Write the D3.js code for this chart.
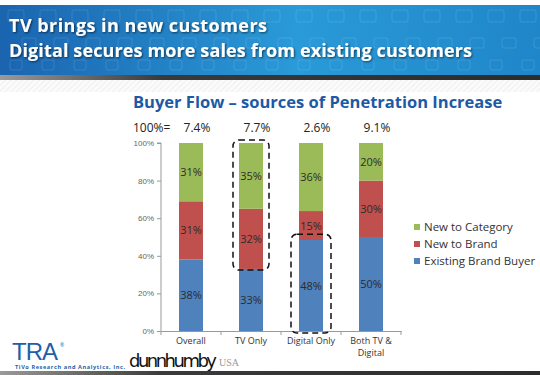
<!DOCTYPE html>
<html>
<head>
<meta charset="utf-8">
<script src="https://cdn.jsdelivr.net/npm/d3@7"></script>
<style>
  body { margin: 0; background: #fff; }
  svg { display: block; font-family: "Open Sans", "DejaVu Sans", sans-serif; }
</style>
</head>
<body>
<div id="chart"></div>
<script>
const categories = ["Overall", "TV Only", "Digital Only", "Both TV &\nDigital"];
const totals = ["7.4%", "7.7%", "2.6%", "9.1%"];
const existing = [38, 33, 48.4, 50];
const newBrand = [31, 32, 15.4, 30];
const newCategory = [31, 35, 36.2, 20];
const seriesNames = ["Existing Brand Buyer", "New to Brand", "New to Category"];
const yTicks = [0, 20, 40, 60, 80, 100];

const W = 540, H = 375;
const colors = ["#4f81bd", "#c0504d", "#9bbb59"];

const svg = d3.select("#chart").append("svg").attr("width", W).attr("height", H);
const defs = svg.append("defs");

// header gradient
const grad = defs.append("linearGradient").attr("id", "hdr").attr("x1", 0).attr("x2", 1);
grad.append("stop").attr("offset", "0%").attr("stop-color", "#1a64b0");
grad.append("stop").attr("offset", "55%").attr("stop-color", "#2a9ad8");
grad.append("stop").attr("offset", "100%").attr("stop-color", "#1f86c9");
const strip = defs.append("linearGradient").attr("id", "strip").attr("x1", 0).attr("x2", 1);
strip.append("stop").attr("offset", "0%").attr("stop-color", "#9a9a9a");
strip.append("stop").attr("offset", "30%").attr("stop-color", "#3a3a3a");
strip.append("stop").attr("offset", "100%").attr("stop-color", "#2c2c2c");
const hatch = defs.append("pattern").attr("id", "hatch").attr("width", 4).attr("height", 4)
  .attr("patternUnits", "userSpaceOnUse").attr("patternTransform", "rotate(45)");
hatch.append("rect").attr("width", 4).attr("height", 4).attr("fill", "#fbfbfb");
hatch.append("line").attr("x1", 0).attr("y1", 0).attr("x2", 0).attr("y2", 4)
  .attr("stroke", "#ececec").attr("stroke-width", 1.5);
const shadow = defs.append("filter").attr("id", "shadow");
shadow.append("feDropShadow").attr("dx", 1).attr("dy", 1).attr("stdDeviation", 0.8)
  .attr("flood-color", "#000").attr("flood-opacity", 0.6);

// background
svg.append("rect").attr("width", W).attr("height", H).attr("fill", "#fff");
svg.append("rect").attr("y", 80).attr("width", W).attr("height", 12).attr("fill", "url(#hatch)");
svg.append("rect").attr("y", 5).attr("width", W).attr("height", 70).attr("fill", "url(#hdr)");
svg.append("rect").attr("y", 75).attr("width", W).attr("height", 5).attr("fill", "url(#strip)");

// faint icon pattern in header
const icons = svg.append("g").attr("fill", "none").attr("stroke", "#ffffff").attr("stroke-opacity", 0.12);
for (let i = 0; i < 17; i++) {
  const x = 8 + i * 32;
  icons.append("rect").attr("x", x).attr("y", 10).attr("width", 16).attr("height", 12).attr("rx", 2);
  icons.append("rect").attr("x", x + 14).attr("y", 38).attr("width", 14).attr("height", 10).attr("rx", 2);
  icons.append("rect").attr("x", x + 2).attr("y", 60).attr("width", 12).attr("height", 10).attr("rx", 2);
}

const header = svg.append("g").attr("fill", "#fff").attr("font-weight", "bold")
  .attr("font-size", 18).attr("filter", "url(#shadow)");
header.append("text").attr("x", 9).attr("y", 32).attr("textLength", 258)
  .text("TV brings in new customers");
header.append("text").attr("x", 9).attr("y", 56.5).attr("textLength", 463)
  .text("Digital secures more sales from existing customers");

svg.append("text").attr("x", 133).attr("y", 108).attr("fill", "#1c5aa6")
  .attr("font-weight", "bold").attr("font-size", 16.5)
  .text("Buyer Flow \u2013  sources of Penetration Increase");

// chart
const x = d3.scaleBand().domain(categories).range([161, 401]);
const y = d3.scaleLinear().domain([0, 100]).range([331, 143]);
const barW = 24;

const yAxis = svg.append("g").attr("transform", "translate(161,0)")
  .call(d3.axisLeft(y).tickValues(yTicks).tickFormat(d => d + "%").tickSize(4));
yAxis.selectAll("text").attr("font-size", 8).attr("fill", "#666");
yAxis.selectAll("line, path").attr("stroke", "#999");
yAxis.select(".domain").attr("d", `M-4,${y(100)}H0V${y(0)}`);

const xAxis = svg.append("g").attr("transform", `translate(0,${y(0)})`)
  .call(d3.axisBottom(x).tickSize(0).tickFormat(""));
xAxis.selectAll("path").attr("stroke", "#999");
const dividers = categories.map((c, i) => x(c)).concat([x.range()[1]]);
xAxis.selectAll(".div").data(dividers).join("line")
  .attr("x1", d => d).attr("x2", d => d).attr("y1", 0).attr("y2", 4).attr("stroke", "#999");

const xl = svg.append("g").attr("font-size", 9).attr("fill", "#333").attr("text-anchor", "middle");
categories.forEach(c => {
  c.split("\n").forEach((line, j) => {
    xl.append("text").attr("x", x(c) + x.bandwidth() / 2).attr("y", 344 + j * 12).text(line);
  });
});

// stacked bars
const rows = categories.map((c, i) => ({ cat: c, s0: existing[i], s1: newBrand[i], s2: newCategory[i] }));
const stack = d3.stack().keys(["s0", "s1", "s2"])(rows);
stack.forEach((layer, k) => {
  const g = svg.append("g");
  g.selectAll("rect").data(layer).join("rect")
    .attr("x", d => x(d.data.cat) + x.bandwidth() / 2 - barW / 2)
    .attr("width", barW)
    .attr("y", d => y(Math.min(d[1], 100)))
    .attr("height", d => y(d[0]) - y(Math.min(d[1], 100)))
    .attr("fill", colors[k]);
  g.selectAll("text").data(layer).join("text")
    .attr("x", d => x(d.data.cat) + x.bandwidth() / 2)
    .attr("y", d => (y(d[0]) + y(Math.min(d[1], 100))) / 2 + 4)
    .attr("text-anchor", "middle").attr("font-size", 11).attr("fill", "#2b2b2b")
    .text(d => Math.round(d[1] - d[0]) + "%");
});

// totals row
svg.append("text").attr("x", 133).attr("y", 132).attr("font-size", 12).attr("fill", "#222").text("100%=");
svg.append("g").selectAll("text").data(totals).join("text")
  .attr("x", (d, i) => x(categories[i]) + x.bandwidth() / 2 + 6).attr("y", 132)
  .attr("text-anchor", "middle").attr("font-size", 12).attr("fill", "#222").text(d => d);

// dashed highlight boxes
const box = (cat, lo, hi, pad) => svg.append("rect")
  .attr("x", x(cat) + x.bandwidth() / 2 - barW / 2 - pad)
  .attr("width", barW + pad * 2)
  .attr("y", y(hi) - 3).attr("height", y(lo) - y(hi) + 6)
  .attr("rx", 6).attr("fill", "none").attr("stroke", "#111")
  .attr("stroke-width", 1.5).attr("stroke-dasharray", "6,4");
box(categories[1], existing[1] + 1, 100, 6);
box(categories[2], 0.5, existing[2] + 1.5, 8);

// legend
const lg = svg.append("g").attr("transform", "translate(414,224)");
[2, 1, 0].forEach((k, j) => {
  lg.append("rect").attr("x", 0).attr("y", j * 17).attr("width", 6).attr("height", 6).attr("fill", colors[k]);
  lg.append("text").attr("x", 10).attr("y", j * 17 + 7).attr("font-size", 11.5).attr("fill", "#333")
    .text(seriesNames[k]);
});

// footer logos
svg.append("text").attr("x", 12).attr("y", 360).attr("font-size", 24).attr("fill", "#1e5fa8")
  .attr("font-family", "Liberation Sans, sans-serif").attr("letter-spacing", -1).text("TRA");
svg.append("text").attr("x", 60).attr("y", 347).attr("font-size", 5).attr("fill", "#1e5fa8").text("®");
svg.append("text").attr("x", 15).attr("y", 369).attr("font-size", 5.6).attr("fill", "#1e5fa8")
  .attr("font-weight", "bold").attr("textLength", 110).text("TiVo Research and Analytics, Inc.");
svg.append("text").attr("x", 129).attr("y", 367).attr("font-size", 18).attr("fill", "#111")
  .attr("font-family", "DejaVu Sans, sans-serif").attr("textLength", 88).text("dunnhumby");
svg.append("text").attr("x", 219).attr("y", 366).attr("font-size", 10).attr("fill", "#999")
  .attr("font-family", "Liberation Serif, serif").text("USA");
svg.append("rect").attr("y", 371).attr("width", W).attr("height", 4).attr("fill", "url(#strip)");
</script>
</body>
</html>
